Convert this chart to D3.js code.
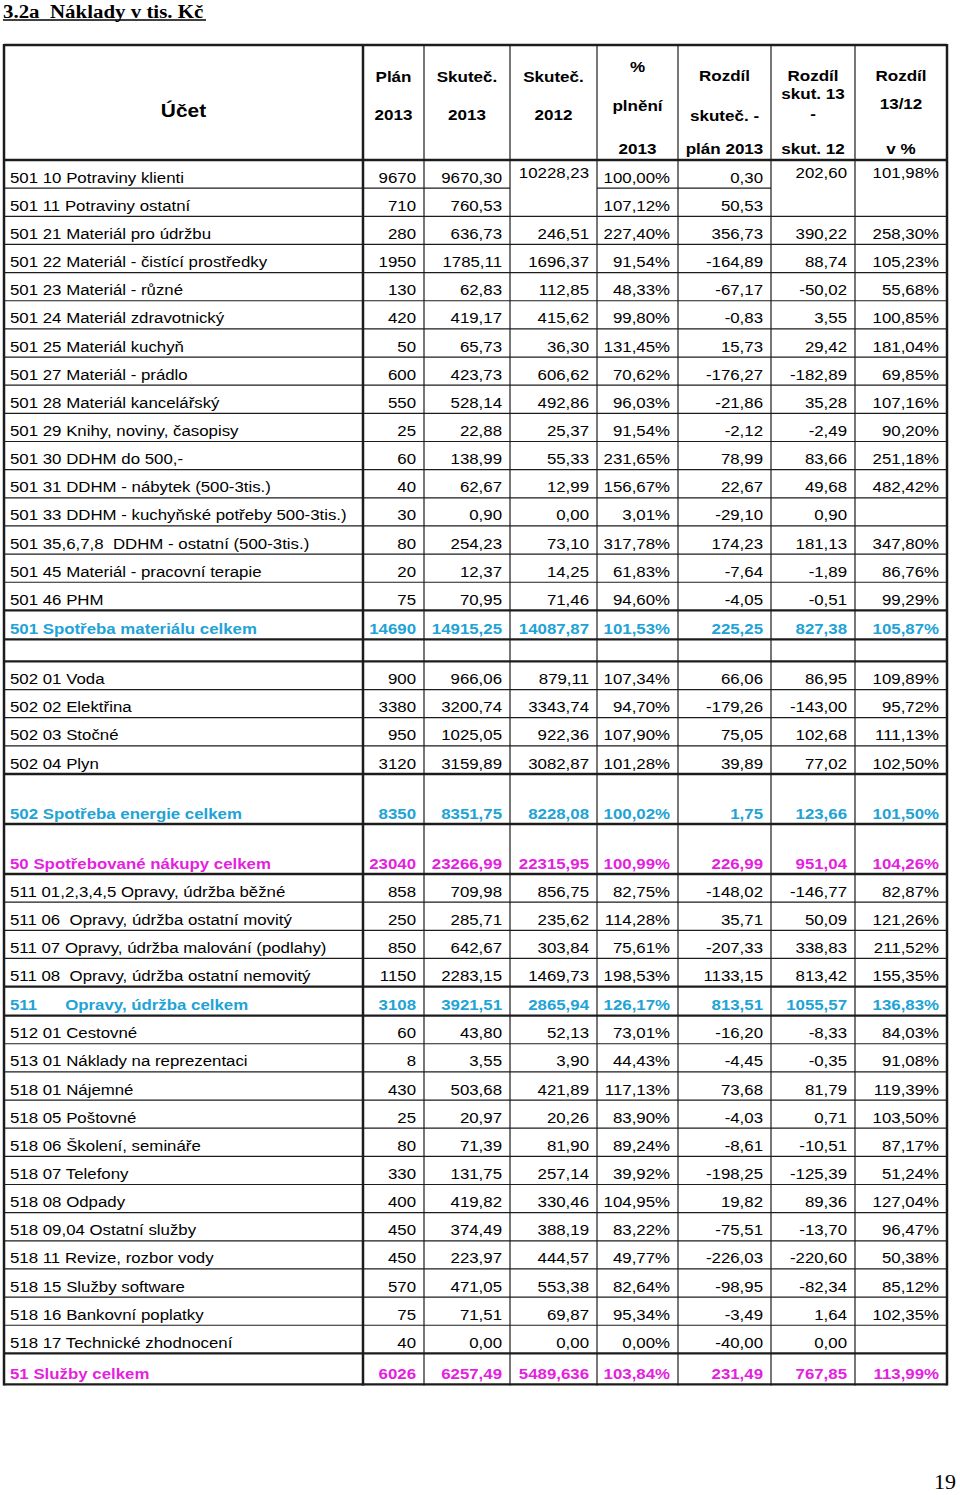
<!DOCTYPE html>
<html>
<head>
<meta charset="utf-8">
<script src="https://cdn.jsdelivr.net/npm/d3@7"></script>
<style>
body { margin: 0; background: #fff; }
text { font-family: "Liberation Sans", Arial, sans-serif; white-space: pre; }
</style>
</head>
<body>
<script>
// ---- data ----
const title = "3.2a  Náklady v tis. Kč";
const pageNo = "19";
const headers = [
  ["Účet"],
  ["Plán", "2013"],
  ["Skuteč.", "2013"],
  ["Skuteč.", "2012"],
  ["%", "plnění", "2013"],
  ["Rozdíl", "skuteč. -", "plán 2013"],
  ["Rozdíl", "skut. 13", "-", "skut. 12"],
  ["Rozdíl", "13/12", "v %"]
];
const rowType = ["item","item","item","item","item","item","item","item","item","item","item","item","item","item","item","item",
  "subtotal","blank","item","item","item","item","subtotal","total",
  "item","item","item","item","subtotal","item","item","item","item","item","item","item","item","item","item","item","item","total"];
const labels = [
  "501 10 Potraviny klienti", "501 11 Potraviny ostatní", "501 21 Materiál pro údržbu",
  "501 22 Materiál - čistící prostředky", "501 23 Materiál - různé", "501 24 Materiál zdravotnický",
  "501 25 Materiál kuchyň", "501 27 Materiál - prádlo", "501 28 Materiál kancelářský",
  "501 29 Knihy, noviny, časopisy", "501 30 DDHM do 500,-", "501 31 DDHM - nábytek (500-3tis.)",
  "501 33 DDHM - kuchyňské potřeby 500-3tis.)", "501 35,6,7,8  DDHM - ostatní (500-3tis.)",
  "501 45 Materiál - pracovní terapie", "501 46 PHM", "501 Spotřeba materiálu celkem", "",
  "502 01 Voda", "502 02 Elektřina", "502 03 Stočné", "502 04 Plyn",
  "502 Spotřeba energie celkem", "50 Spotřebované nákupy celkem",
  "511 01,2,3,4,5 Opravy, údržba běžné", "511 06  Opravy, údržba ostatní movitý",
  "511 07 Opravy, údržba malování (podlahy)", "511 08  Opravy, údržba ostatní nemovitý",
  "511      Opravy, údržba celkem", "512 01 Cestovné", "513 01 Náklady na reprezentaci",
  "518 01 Nájemné", "518 05 Poštovné", "518 06 Školení, semináře", "518 07 Telefony",
  "518 08 Odpady", "518 09,04 Ostatní služby", "518 11 Revize, rozbor vody",
  "518 15 Služby software", "518 16 Bankovní poplatky", "518 17 Technické zhodnocení",
  "51 Služby celkem"
];
const plan2013 = ["9670","710","280","1950","130","420","50","600","550","25","60","40","30","80","20","75",
  "14690","","900","3380","950","3120","8350","23040",
  "858","250","850","1150","3108","60","8","430","25","80","330","400","450","450","570","75","40","6026"];
const skut2013 = ["9670,30","760,53","636,73","1785,11","62,83","419,17","65,73","423,73","528,14","22,88","138,99","62,67","0,90","254,23","12,37","70,95",
  "14915,25","","966,06","3200,74","1025,05","3159,89","8351,75","23266,99",
  "709,98","285,71","642,67","2283,15","3921,51","43,80","3,55","503,68","20,97","71,39","131,75","419,82","374,49","223,97","471,05","71,51","0,00","6257,49"];
const skut2012 = ["10228,23","","246,51","1696,37","112,85","415,62","36,30","606,62","492,86","25,37","55,33","12,99","0,00","73,10","14,25","71,46",
  "14087,87","","879,11","3343,74","922,36","3082,87","8228,08","22315,95",
  "856,75","235,62","303,84","1469,73","2865,94","52,13","3,90","421,89","20,26","81,90","257,14","330,46","388,19","444,57","553,38","69,87","0,00","5489,636"];
const plneni = ["100,00%","107,12%","227,40%","91,54%","48,33%","99,80%","131,45%","70,62%","96,03%","91,54%","231,65%","156,67%","3,01%","317,78%","61,83%","94,60%",
  "101,53%","","107,34%","94,70%","107,90%","101,28%","100,02%","100,99%",
  "82,75%","114,28%","75,61%","198,53%","126,17%","73,01%","44,43%","117,13%","83,90%","89,24%","39,92%","104,95%","83,22%","49,77%","82,64%","95,34%","0,00%","103,84%"];
const rozdilPlan = ["0,30","50,53","356,73","-164,89","-67,17","-0,83","15,73","-176,27","-21,86","-2,12","78,99","22,67","-29,10","174,23","-7,64","-4,05",
  "225,25","","66,06","-179,26","75,05","39,89","1,75","226,99",
  "-148,02","35,71","-207,33","1133,15","813,51","-16,20","-4,45","73,68","-4,03","-8,61","-198,25","19,82","-75,51","-226,03","-98,95","-3,49","-40,00","231,49"];
const rozdilSkut = ["202,60","","390,22","88,74","-50,02","3,55","29,42","-182,89","35,28","-2,49","83,66","49,68","0,90","181,13","-1,89","-0,51",
  "827,38","","86,95","-143,00","102,68","77,02","123,66","951,04",
  "-146,77","50,09","338,83","813,42","1055,57","-8,33","-0,35","81,79","0,71","-10,51","-125,39","89,36","-13,70","-220,60","-82,34","1,64","0,00","767,85"];
const rozdilPct = ["101,98%","","258,30%","105,23%","55,68%","100,85%","181,04%","69,85%","107,16%","90,20%","251,18%","482,42%","","347,80%","86,76%","99,29%",
  "105,87%","","109,89%","95,72%","111,13%","102,50%","101,50%","104,26%",
  "82,87%","121,26%","211,52%","155,35%","136,83%","84,03%","91,08%","119,39%","103,50%","87,17%","51,24%","127,04%","96,47%","50,38%","85,12%","102,35%","","113,99%"];
const columns = [labels, plan2013, skut2013, skut2012, plneni, rozdilPlan, rozdilSkut, rozdilPct];

// ---- layout ----
const W = 960, H = 1495;
const left = 4, tableTop = 45, headBottom = 160;
const colWidths = [359, 61, 86, 87, 81, 93, 84, 92];
const colEdges = [left].concat(Array.from(d3.cumsum(colWidths), v => v + left));
const tallRows = new Set([22, 23]);
const rowH = rowType.map((t, i) => tallRows.has(i) ? 50 : t === "blank" ? 22 : t === "item" ? 28.15 : (i === rowType.length - 1 ? 31 : 29));
const rowEdges = [headBottom].concat(Array.from(d3.cumsum(rowH), v => v + headBottom));
const tableBottom = rowEdges[rowEdges.length - 1];
const x = d3.scaleOrdinal().domain(d3.range(colEdges.length)).range(colEdges);
const y = d3.scaleOrdinal().domain(d3.range(rowEdges.length)).range(rowEdges);
const SX = 1.1; // glyphs in the reference are slightly wide
const color = { item: "#000", blank: "#000", subtotal: "#22a3d6", total: "#e41fdf" };
const mergedCols = new Set([3, 6, 7]); // rows 0-1 merged in these columns

const svg = d3.select("body").append("svg").attr("width", W).attr("height", H);
svg.append("rect").attr("width", W).attr("height", H).attr("fill", "#fff");

function txt(g, s, px, py, anchor, size, weight, fill, family) {
  g.append("text")
    .attr("transform", `translate(${px},${py}) scale(${SX},1)`)
    .attr("text-anchor", anchor)
    .attr("font-size", size)
    .attr("font-weight", weight)
    .attr("fill", fill)
    .style("font-family", family || null)
    .text(s);
}

// title
const tg = svg.append("g");
txt(tg, title, 3, 17.5, "start", 19, "bold", "#000", "'Liberation Serif', 'Times New Roman', serif");
tg.append("line").attr("x1", 3).attr("x2", 206).attr("y1", 20).attr("y2", 20).attr("stroke", "#000").attr("stroke-width", 1.3);

// header (baselines per column)
const headY = [
  [117],
  [81.5, 119.5],
  [81.5, 119.5],
  [81.5, 119.5],
  [72, 110.5, 154],
  [80.5, 121, 154],
  [80.5, 99, 119, 154],
  [80.5, 108.5, 154]
];
const hg = svg.append("g");
headers.forEach((lines, c) => {
  const cx = (x(c) + x(c + 1)) / 2;
  lines.forEach((s, k) => txt(hg, s, cx, headY[c][k], "middle", c === 0 ? 19 : 15.5, "bold", "#000"));
});

// cells
const cg = svg.append("g");
rowType.forEach((t, r) => {
  const base = y(r + 1) - 5.5;
  columns.forEach((col, c) => {
    const s = col[r];
    if (!s) return;
    const weight = t === "item" ? "normal" : "bold";
    const dy = (r === 0 && mergedCols.has(c)) ? -5 : 0;
    if (c === 0) txt(cg, s, 10, base + dy, "start", 15.3, weight, color[t]);
    else txt(cg, s, x(c + 1) - 8, base + dy, "end", 15.3, weight, color[t]);
  });
});

// grid lines
const lg = svg.append("g").attr("stroke", "#1c1c1c");
for (let i = 0; i <= rowType.length; i++) {
  const prev = rowType[i - 1], next = rowType[i];
  const thick = i === 0 || i === rowType.length || prev !== "item" || next !== "item";
  for (let c = 0; c < colWidths.length; c++) {
    if (i === 1 && mergedCols.has(c)) continue;
    lg.append("line")
      .attr("x1", x(c)).attr("x2", x(c + 1))
      .attr("y1", y(i)).attr("y2", y(i))
      .attr("stroke-width", thick ? 2.3 : 1.2);
  }
}
lg.append("line").attr("x1", left).attr("x2", x(colWidths.length)).attr("y1", tableTop).attr("y2", tableTop).attr("stroke-width", 2.5);
colEdges.forEach((ex, c) => {
  const thick = c === 0 || c === 1 || c === colEdges.length - 1;
  lg.append("line")
    .attr("x1", ex).attr("x2", ex)
    .attr("y1", tableTop - 1).attr("y2", tableBottom + 1)
    .attr("stroke-width", thick ? 2.5 : 1.2);
});

// page number
txt(svg, pageNo, 956, 1489, "end", 20, "normal", "#000", "'Liberation Serif', 'Times New Roman', serif");
</script>
</body>
</html>
